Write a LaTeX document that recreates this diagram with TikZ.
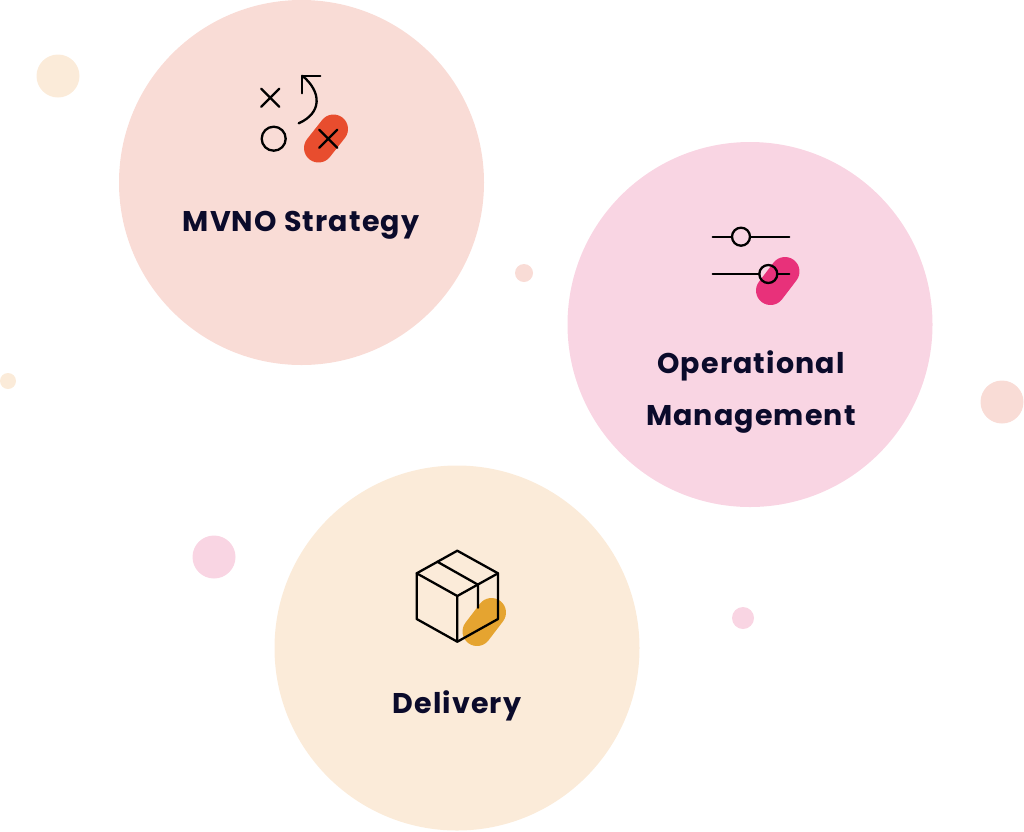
\documentclass[tikz,border=0pt]{standalone}
\usepackage{fontspec}
\setmainfont{Poppins}[LetterSpace=4]
\definecolor{salmonbg}{HTML}{F9DCD6}
\definecolor{pinkbg}{HTML}{F9D5E3}
\definecolor{creambg}{HTML}{FBEBD9}
\definecolor{redpill}{HTML}{E84D2E}
\definecolor{magpill}{HTML}{E8317A}
\definecolor{goldpill}{HTML}{E5A430}
\definecolor{inkdark}{HTML}{0B0B2B}
\tikzset{
  title/.style={font=\fontsize{28.5}{28.5}\selectfont\bfseries,text=inkdark,align=center,inner sep=0pt},
  icon/.style={draw=black,line width=2.3pt,line cap=round,line join=round},
  pill/.style={line width=#1,line cap=round}
}
\begin{document}
\begin{tikzpicture}[x=1pt,y=-1pt]
\useasboundingbox (0,0) rectangle (1024,831);
% big circles
\fill [salmonbg] (301.5,182.5) circle (182.5);
\fill [pinkbg] (750,324.5) circle (182.5);
\fill [creambg] (457,648) circle (182.5);
% small dots
\fill [creambg] (58,76) circle (21.5);
\fill [creambg] (8,381) circle (8);
\fill [salmonbg] (524,273) circle (9);
\fill [salmonbg] (1002,402) circle (21.5);
\fill [pinkbg] (214,557) circle (21.5);
\fill [pinkbg] (743,618) circle (11);
% strategy icon
\draw [redpill,pill=29pt] (333.5,129) -- (318.5,148);
\draw [icon] (261.3,88.7) -- (279.3,106.7) (261.3,106.7) -- (279.3,88.7);
\draw [icon] (319.3,129.7) -- (337.3,147.7) (319.3,147.7) -- (337.3,129.7);
\draw [icon] (273.7,138.7) circle (12);
\draw [icon] (320.3,75.7) -- (302.3,75.7) -- (302.3,93.3);
\draw [icon] (302.3,75.7) .. controls (322,92) and (322,113) .. (298.7,123.3);
% sliders icon
\fill [pinkbg] (768.3,274) circle (9);
\draw [magpill,pill=29pt] (785,271.5) -- (770.5,290.5);
\draw [icon] (712.7,236.7) -- (732,236.7) (750,236.7) -- (789.3,236.7);
\draw [icon] (741,236.7) circle (9);
\draw [icon] (712.7,274) -- (759.3,274) (777.3,274) -- (789.3,274);
\draw [icon] (768.3,274) circle (9);
% box icon
\draw [goldpill,pill=29pt] (491.5,612.5) -- (477,631.5);
\draw [icon] (457.3,550.7) -- (498,573.3) -- (498,619) -- (457.3,641.7) -- (416.7,619) -- (416.7,573.3) -- cycle;
\draw [icon] (416.7,573.3) -- (457.3,596) -- (498,573.3) (457.3,596) -- (457.3,641.7);
\draw [icon] (437.3,561.7) -- (478,584.7) -- (478,607.7);
% labels
\node [title] (strategy) at (301,225) {MVNO Strategy};
\node [title] (operational) at (751,366) {Operational};
\node [title] (management) at (751,419) {Management};
\node [title] (delivery) at (457,706) {Delivery};
\end{tikzpicture}
\end{document}
